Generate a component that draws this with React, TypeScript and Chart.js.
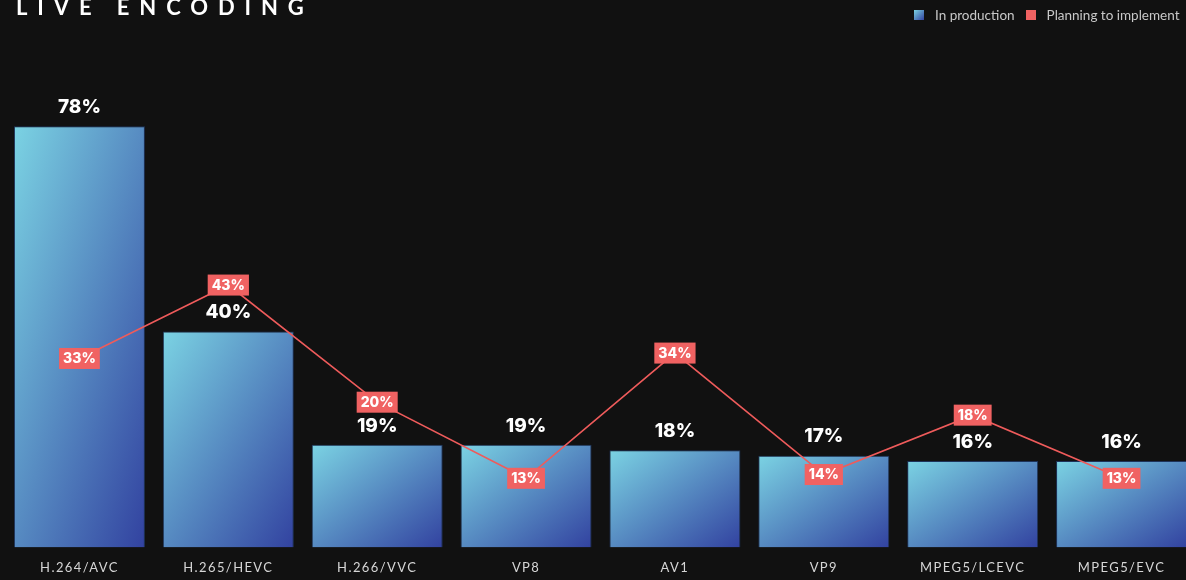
import React, { useEffect, useRef } from "react";
import { Chart, registerables } from "chart.js";

Chart.register(...registerables);

const categories = ["H.264/AVC", "H.265/HEVC", "H.266/VVC", "VP8", "AV1", "VP9", "MPEG5/LCEVC", "MPEG5/EVC"];
const production = [78, 40, 19, 19, 18, 17, 16, 16];
// printed labels of the "Planning to implement" series
const planning = [33, 43, 20, 13, 34, 14, 18, 13];
// heights (in % on the bar axis) at which the reference places the line's points;
// the reference line is not drawn to the same linear scale as its printed labels
const planningHeight = [35, 48.6, 26.9, 12.8, 36, 13.5, 24.5, 12.8];
const seriesNames = ["In production", "Planning to implement"];

const GRAD_START = "#7bd3e3";
const GRAD_END = "#3242a0";
const RED = "#f06262";

const valueLabels = {
  id: "valueLabels",
  beforeDraw(chart: any) {
    (chart.ctx as any).letterSpacing = "1.4px";
  },
  afterDatasetsDraw(chart: any) {
    const ctx = chart.ctx as any;
    ctx.save();
    ctx.letterSpacing = "0px";
    ctx.textAlign = "center";
    ctx.textBaseline = "middle";
    const barMeta = chart.getDatasetMeta(1);
    barMeta.data.forEach((el: any, i: number) => {
      ctx.font = "800 19px Inter";
      ctx.fillStyle = "#ffffff";
      ctx.fillText(production[i] + "%", el.x, el.y - 19);
    });
    const lineMeta = chart.getDatasetMeta(0);
    lineMeta.data.forEach((pt: any, i: number) => {
      const txt = planning[i] + "%";
      ctx.font = "800 14px Inter";
      const w = ctx.measureText(txt).width + 8;
      const h = 21;
      ctx.fillStyle = RED;
      ctx.fillRect(pt.x - w / 2, pt.y - h / 2, w, h);
      ctx.fillStyle = "#ffffff";
      ctx.fillText(txt, pt.x, pt.y + 0.5);
    });
    ctx.restore();
  },
};

function barGradient(c: any) {
  const chart = c.chart;
  if (!chart.chartArea || c.type !== "data") return "#5a8fc8";
  const xs = chart.scales.x;
  const ys = chart.scales.y;
  const cx = xs.getPixelForValue(c.dataIndex);
  const w = (xs.width / categories.length) * 0.88;
  const top = ys.getPixelForValue(c.raw);
  const bot = ys.getPixelForValue(0);
  const h = Math.max(1, bot - top);
  const cy = (top + bot) / 2;
  const d = Math.sqrt(w * w + h * h);
  const ux = h / d;
  const uy = w / d;
  const L = (w * h) / d;
  const g = chart.ctx.createLinearGradient(cx - ux * L, cy - uy * L, cx + ux * L, cy + uy * L);
  g.addColorStop(0, GRAD_START);
  g.addColorStop(1, GRAD_END);
  return g;
}

export default function App() {
  const ref = useRef<HTMLCanvasElement | null>(null);

  useEffect(() => {
    if (!ref.current) return;
    const chart = new Chart(ref.current, {
      data: {
        labels: categories,
        datasets: [
          {
            type: "line",
            label: seriesNames[1],
            data: planningHeight,
            yAxisID: "y",
            borderColor: "#ee5b5b",
            borderWidth: 1.6,
            pointRadius: 0,
            tension: 0,
            order: 0,
          } as any,
          {
            type: "bar",
            label: seriesNames[0],
            data: production,
            yAxisID: "y",
            backgroundColor: barGradient,
            borderColor: "rgba(35,65,120,0.7)",
            borderWidth: 1,
            categoryPercentage: 0.88,
            barPercentage: 1,
            order: 1,
          } as any,
        ],
      },
      options: {
        responsive: false,
        animation: false,
        layout: { padding: { left: 5, right: 4, top: 40, bottom: 0 } },
        plugins: {
          legend: { display: false },
          title: { display: false },
          tooltip: { enabled: false },
        },
        scales: {
          x: {
            grid: { display: false, drawTicks: false },
            border: { display: false },
            ticks: {
              color: "#d6d6d6",
              padding: 13,
              font: { family: "Lato", size: 13 },
              maxRotation: 0,
              autoSkip: false,
            },
          },
          y: { display: false, min: 0, max: 94 },
        },
      },
      plugins: [valueLabels],
    } as any);
    return () => chart.destroy();
  }, []);

  return (
    <div
      style={{
        position: "fixed",
        left: 0,
        top: 0,
        width: "100vw",
        height: "100vh",
        overflow: "hidden",
        background: "#111111",
      }}
    >
      <canvas ref={ref} width={1200} height={589} style={{ position: "absolute", left: 0, top: 0 }} />
      <div
        style={{
          position: "absolute",
          left: 16,
          top: -4,
          fontFamily: "Lato",
          fontWeight: 700,
          fontSize: 22,
          lineHeight: "22px",
          letterSpacing: "0.45em",
          color: "#ffffff",
          whiteSpace: "nowrap",
        }}
      >
        LIVE ENCODING
      </div>
      <div
        style={{
          position: "absolute",
          left: 914,
          top: 7,
          display: "flex",
          alignItems: "center",
          fontFamily: "Lato",
          fontSize: 13.5,
          lineHeight: "16px",
          color: "#c8c8c8",
          whiteSpace: "nowrap",
        }}
      >
        <span style={{ width: 10, height: 10, display: "inline-block", background: `linear-gradient(to bottom right, ${GRAD_START}, ${GRAD_END})`, marginRight: 11 }} />
        <span style={{ marginRight: 11 }}>{seriesNames[0]}</span>
        <span style={{ width: 10, height: 10, display: "inline-block", background: RED, marginRight: 11 }} />
        <span>{seriesNames[1]}</span>
      </div>
    </div>
  );
}
